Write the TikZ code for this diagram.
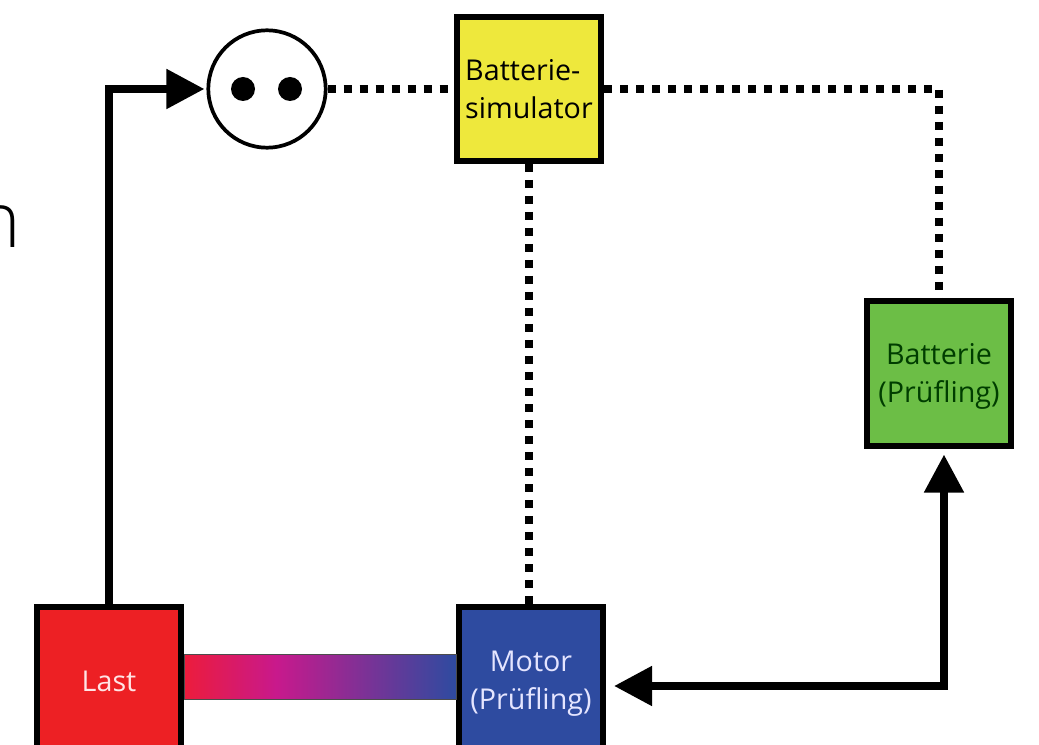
\documentclass[tikz,border=0pt]{standalone}
\usepackage{fontspec}
\setmainfont{Open Sans}
\newfontfamily\thinfont{Open Sans Light}
\usetikzlibrary{arrows.meta}
\definecolor{simyellow}{RGB}{238,232,60}
\definecolor{battgreen}{RGB}{108,190,70}
\definecolor{lastred}{RGB}{237,32,36}
\definecolor{motorblue}{RGB}{46,75,160}
\definecolor{shaftred}{RGB}{236,28,60}
\definecolor{shaftpink}{RGB}{200,25,140}
\pgfdeclarehorizontalshading{lastmotor}{100bp}{color(0bp)=(shaftred); color(25bp)=(shaftred); color(42bp)=(shaftpink); color(75bp)=(motorblue); color(100bp)=(motorblue)}
\begin{document}
\begin{tikzpicture}[x=0.75pt,y=-0.75pt]
        \tikzstyle{unit}=[draw=black,line width=4.5pt,minimum size=108pt,inner sep=0pt,font=\fontsize{21.5}{28.5}\selectfont]
        \tikzstyle{socket}=[circle,draw=black,line width=2.8pt,fill=white,minimum size=88pt,inner sep=0pt]
        \tikzstyle{hole}=[circle,fill=black,minimum size=18pt,inner sep=0pt]
        \tikzstyle{power}=[draw,line width=6pt,-{Triangle[length=28.5pt,width=28.5pt]}]
        \tikzstyle{signal}=[draw,line width=6pt,dash pattern=on 6pt off 6pt]
        \tikzstyle{shaft}=[shading=lastmotor,draw=black!70,line width=0.6pt]
        \useasboundingbox (0,0) rectangle (1039,745);
        \node [inner sep=0pt,anchor=base east,font=\thinfont\fontsize{58}{58}\selectfont] (cut) at (21,248) {n};
        \node [socket] (sock) at (267,89) {};
        \node [hole] (h1) at (243,89) {};
        \node [hole] (h2) at (290,89) {};
        \node [unit,fill=simyellow,align=left] (sim) at (529,89) {Batterie-\\simulator};
        \node [unit,fill=battgreen,text=black!60!green!60!black,align=center] (batt) at (939,373.5) {\rule{0pt}{19.5pt}Batterie\\(Prüfling)};
        \node [unit,fill=lastred,text=white!90!red,minimum height=111pt] (last) at (109,681) {Last};
        \node [unit,fill=motorblue,text=white!90!blue,align=center,minimum height=115.5pt] (motor) at (531,684) {Motor\\(Prüfling)};
        \coordinate (corner) at (944,686);
        \coordinate (turn) at (939,89);
        \path[shaft] (last.east |- 0,654) rectangle (motor.west |- 0,699);
        \path[power,shorten >=1.5pt] (last.north) |- (sock.west);
        \path[power,{Triangle[length=28.5pt,width=28.5pt]}-{Triangle[length=28.5pt,width=28.5pt]},shorten <=6pt,shorten >=4.5pt] (motor.east |- corner) -- (corner) -- (batt.south -| corner);
        \path[signal] (sock.east) -- (sim.west);
        \path[signal] (sim.east) -- (turn) -- (batt.north);
        \path[signal] (sim.south) -- (sim.south |- motor.north);
      \end{tikzpicture}
\end{document}
